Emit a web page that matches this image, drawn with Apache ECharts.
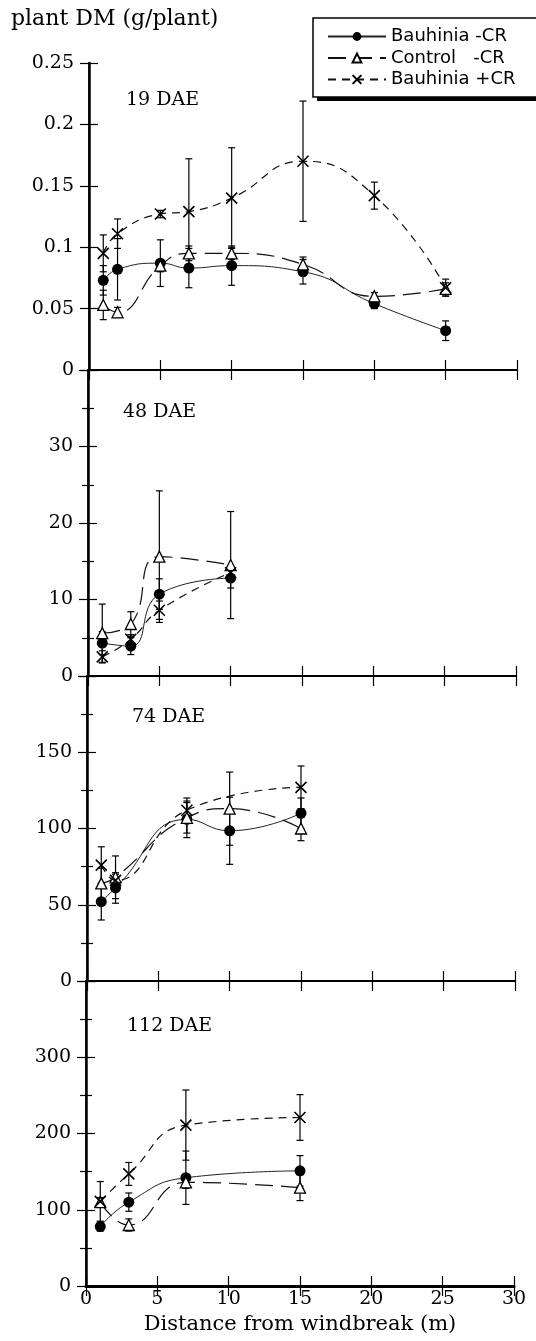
<!DOCTYPE html>
<html>
<head>
<meta charset="utf-8">
<script src="https://cdn.jsdelivr.net/npm/echarts@6/dist/echarts.min.js"></script>
<style>html,body{margin:0;padding:0;background:#fff;}#c{width:536px;height:1341px;}</style>
</head>
<body>
<div id="c"></div>
<script>
// ---- data ----
const seriesNames = ['Bauhinia -CR', 'Control   -CR', 'Bauhinia +CR'];
const panelLabels = ['19 DAE', '48 DAE', '74 DAE', '112 DAE'];
const xTicks = [0, 5, 10, 15, 20, 25, 30];
const yMax = [0.25, 40, 200, 400];
const yStep = [0.05, 10, 50, 100];

// 19 DAE
const p1X = [1, 2, 5, 7, 10, 15, 20, 25];
const p1BauNoCR = [0.073, 0.082, 0.087, 0.083, 0.085, 0.080, 0.054, 0.032];
const p1BauNoCRErr = [0.012, 0.025, 0.019, 0.016, 0.016, 0.010, 0.004, 0.008];
const p1Ctrl = [0.053, 0.047, 0.085, 0.095, 0.095, 0.086, 0.060, 0.066];
const p1CtrlErr = [0.012, 0.004, 0.005, 0.006, 0.005, 0.006, 0.003, 0.005];
const p1BauCR = [0.095, 0.111, 0.127, 0.129, 0.140, 0.170, 0.142, 0.067];
const p1BauCRErr = [0.015, 0.012, 0.003, 0.043, 0.041, 0.049, 0.011, 0.007];

// 48 DAE
const p2X = [1, 3, 5, 10];
const p2BauNoCR = [4.3, 3.9, 10.7, 12.8];
const p2BauNoCRErr = [1.5, 1.1, 2.0, 1.3];
const p2Ctrl = [5.6, 6.8, 15.6, 14.5];
const p2CtrlErr = [3.8, 1.6, 8.6, 7.0];
const p2BauCR = [2.5, 4.8, 8.6, 13.5];
const p2BauCRErr = [0.8, 0.6, 1.2, 0.8];

// 74 DAE
const p3X = [1, 2, 7, 10, 15];
const p3BauNoCR = [52, 61, 106, 98.5, 110];
const p3BauNoCRErr = [12, 10, 12, 22, 10];
const p3Ctrl = [64, 68, 107, 113, 100];
const p3CtrlErr = [10, 14, 10, 24, 8];
const p3XCR = [1, 2, 7, 15];
const p3BauCR = [76, 66, 112, 127];
const p3BauCRErr = [12, 4, 8, 14];

// 112 DAE
const p4X = [1, 3, 7, 15];
const p4BauNoCR = [78, 110, 142, 151];
const p4BauNoCRErr = [6, 12, 35, 20];
const p4Ctrl = [110, 80, 136, 129];
const p4CtrlErr = [6, 8, 8, 17];
const p4BauCR = [111, 147, 211, 221];
const p4BauCRErr = [26, 15, 46, 30];

const panels = [
  [[p1X, p1BauNoCR, p1BauNoCRErr], [p1X, p1Ctrl, p1CtrlErr], [p1X, p1BauCR, p1BauCRErr]],
  [[p2X, p2BauNoCR, p2BauNoCRErr], [p2X, p2Ctrl, p2CtrlErr], [p2X, p2BauCR, p2BauCRErr]],
  [[p3X, p3BauNoCR, p3BauNoCRErr], [p3X, p3Ctrl, p3CtrlErr], [p3XCR, p3BauCR, p3BauCRErr]],
  [[p4X, p4BauNoCR, p4BauNoCRErr], [p4X, p4Ctrl, p4CtrlErr], [p4X, p4BauCR, p4BauCRErr]]
];

// ---- layout / style ----
const gridTops = [63, 370, 676, 981];
const gridHeights = [307, 306, 305, 305];
const gridLefts = [89, 88, 87, 86];
const serif = 'DejaVu Serif';
const sans = 'DejaVu Sans';

const styles = [
  { symbol: 'circle', symbolSize: 11, itemStyle: { color: '#000' }, lineStyle: { color: '#222', width: 1, type: 'solid' } },
  { symbol: 'triangle', symbolSize: 11, itemStyle: { color: '#fff', borderColor: '#000', borderWidth: 1.3 }, lineStyle: { color: '#111', width: 1.2, type: [18, 8] } },
  { symbol: 'path://M0,0L10,10M10,0L0,10', symbolSize: 11, itemStyle: { color: '#000', borderColor: '#000', borderWidth: 1.6 }, lineStyle: { color: '#111', width: 1.2, type: [8, 6] } }
];

function renderErr(params, api) {
  const x = api.value(0);
  const a = api.coord([x, api.value(1)]);
  const b = api.coord([x, api.value(2)]);
  const w = 3.5;
  const st = { stroke: '#000', lineWidth: 1.2 };
  return {
    type: 'group',
    children: [
      { type: 'line', shape: { x1: a[0], y1: a[1], x2: b[0], y2: b[1] }, style: st },
      { type: 'line', shape: { x1: a[0] - w, y1: a[1], x2: a[0] + w, y2: a[1] }, style: st },
      { type: 'line', shape: { x1: b[0] - w, y1: b[1], x2: b[0] + w, y2: b[1] }, style: st }
    ]
  };
}

const grid = [], xAxis = [], yAxis = [], series = [];
const title = [
  { text: 'plant DM (g/plant)', left: 6, top: 3, textStyle: { fontFamily: serif, fontSize: 22, fontWeight: 'normal', color: '#000' } }
];
const labelPos = [[121, 86], [118, 398], [127, 703], [122, 1012]];

for (let i = 0; i < 4; i++) {
  grid.push({ left: gridLefts[i], width: 428, top: gridTops[i], height: gridHeights[i] });
  const last = i === 3;
  const bottomW = last ? 3 : 2;
  xAxis.push({
    type: 'value', gridIndex: i, position: 'bottom', min: 0, max: 30, interval: 5,
    axisLine: { show: true, lineStyle: { color: '#000', width: bottomW } },
    axisTick: { show: true, inside: true, length: 10, lineStyle: { color: '#000', width: 1.2 } },
    axisLabel: { show: last, margin: 4, fontFamily: serif, fontSize: 19, color: '#000' },
    splitLine: { show: false },
    name: last ? 'Distance from windbreak (m)' : '',
    nameLocation: 'middle', nameGap: 28,
    nameTextStyle: { fontFamily: serif, fontSize: 21, color: '#000' }
  });
  xAxis.push({
    type: 'value', gridIndex: i, position: 'top', min: 0, max: 30, interval: 5,
    axisLine: { show: true, lineStyle: { color: '#000', width: 2 } },
    axisTick: { show: true, inside: true, length: 10, lineStyle: { color: '#000', width: 1.2 } },
    axisLabel: { show: false }, splitLine: { show: false }
  });
  yAxis.push({
    type: 'value', gridIndex: i, position: 'left', min: 0, max: yMax[i], interval: yStep[i],
    axisLine: { show: true, lineStyle: { color: '#000', width: 1.5 } },
    axisTick: { show: true, inside: true, length: 9, lineStyle: { color: '#000', width: 1.2 } },
    minorTick: { show: i > 0, splitNumber: 2, length: 6, lineStyle: { color: '#000', width: 1.2 } },
    axisLabel: { margin: 15, fontFamily: serif, fontSize: 19, color: '#000', showMaxLabel: i === 0 },
    splitLine: { show: false }
  });
  yAxis.push({
    type: 'value', gridIndex: i, position: 'right', min: 0, max: yMax[i], interval: yStep[i],
    axisLine: { show: true, lineStyle: { color: '#000', width: 2.5 } },
    axisTick: { show: true, inside: true, length: 9, lineStyle: { color: '#000', width: 1.2 } },
    minorTick: { show: i > 0, splitNumber: 2, length: 6, lineStyle: { color: '#000', width: 1.2 } },
    axisLabel: { show: false }, splitLine: { show: false }
  });
  title.push({ text: panelLabels[i], left: labelPos[i][0], top: labelPos[i][1], textStyle: { fontFamily: serif, fontSize: 19, fontWeight: 'normal', color: '#000' } });

  panels[i].forEach((s, k) => {
    const [xs, ys, es] = s;
    series.push({
      type: 'custom', xAxisIndex: 2 * i, yAxisIndex: 2 * i, renderItem: renderErr,
      encode: { x: 0, y: [1, 2] }, silent: true, z: 2,
      data: xs.map((x, j) => [x, ys[j] - es[j], ys[j] + es[j]])
    });
    series.push(Object.assign({
      type: 'line', name: seriesNames[k], xAxisIndex: 2 * i, yAxisIndex: 2 * i,
      smooth: true, showAllSymbol: true, z: 3 + k,
      data: xs.map((x, j) => [x, ys[j]])
    }, JSON.parse(JSON.stringify(styles[k]))));
  });
}

const chart = echarts.init(document.getElementById('c'), null, { renderer: 'canvas' });
chart.setOption({
  animation: false,
  backgroundColor: '#fff',
  title: title,
  grid: grid,
  xAxis: xAxis,
  yAxis: yAxis,
  graphic: [
    { type: 'rect', z: 15, shape: { x: 317, y: 22, width: 240, height: 79 }, style: { fill: '#000' }, silent: true },
    { type: 'rect', z: 16, shape: { x: 313, y: 18, width: 240, height: 79 }, style: { fill: '#fff', stroke: '#000', lineWidth: 1.5 }, silent: true }
  ],
  legend: {
    data: seriesNames, z: 20,
    orient: 'vertical', left: 313, top: 18,
    itemWidth: 58, itemHeight: 11, itemGap: 0.5,
    padding: [8, 10, 6, 14],
    textStyle: { fontFamily: sans, fontSize: 18, color: '#000', lineHeight: 21 },
    selectedMode: false
  },
  series: series
});
</script>
</body>
</html>
